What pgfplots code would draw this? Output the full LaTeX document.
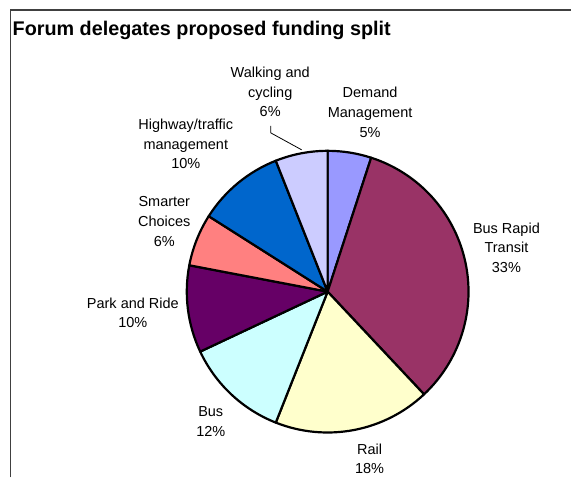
\documentclass[border=0pt]{standalone}
\usepackage{fontspec}
\setmainfont{Liberation Sans}
\usepackage{pgfplots}
\usepackage{pgfplotstable}
\pgfplotsset{compat=1.18}

\definecolor{frame}{HTML}{404040}
\definecolor{cDM}{HTML}{9999FF}
\definecolor{cBRT}{HTML}{993366}
\definecolor{cRail}{HTML}{FFFFCC}
\definecolor{cBus}{HTML}{CCFFFF}
\definecolor{cPR}{HTML}{660066}
\definecolor{cSC}{HTML}{FF8080}
\definecolor{cHW}{HTML}{0066CC}
\definecolor{cWC}{HTML}{CCCCFF}

% percentages, start and end angles (clockwise from 12 o'clock), pie centre
\pgfplotstableread{
pct a0 a1 cx cy
5 90 72 328 186
33 72 -46.8 328 186
18 -46.8 -111.6 328 186
12 -111.6 -154.8 328 186
10 -154.8 -190.8 328 186
6 -190.8 -212.4 328 186
10 -212.4 -248.4 328 186
6 -248.4 -270 328 186
}\piedata

\pgfdeclareplotmark{wedge}{%
  \pgfpathmoveto{\pgfpointorigin}%
  \pgfpathlineto{\pgfpointpolar{\wedgestart}{141bp}}%
  \pgfpatharc{\wedgestart}{\wedgeend}{141bp}%
  \pgfpathclose
  \pgfusepathqfillstroke}

\newcommand\pieslice[2]{%
  \addplot[only marks, mark=wedge,
    mark options={fill=#2, draw=black, line width=2.2bp, line join=round},
    restrict expr to domain={\coordindex}{#1:#1},
    visualization depends on={\thisrow{a0}\as\wedgestart},
    visualization depends on={\thisrow{a1}\as\wedgeend},
  ] table[x=cx, y=cy] {\piedata};}

\newcommand\lblfont{\fontsize{14.5bp}{19.6bp}\selectfont}

\begin{document}
\begin{tikzpicture}
\begin{axis}[
  x=1bp, y=1bp,
  xmin=0, xmax=572, ymin=0, ymax=478,
  axis lines=none,
  scale only axis,
  clip=false,
]
\pieslice{0}{cDM}
\pieslice{1}{cBRT}
\pieslice{2}{cRail}
\pieslice{3}{cBus}
\pieslice{4}{cPR}
\pieslice{5}{cSC}
\pieslice{6}{cHW}
\pieslice{7}{cWC}

% frame
\draw[line width=1.3bp, frame] (axis cs:10.5,0) -- (axis cs:10.5,468) -- (axis cs:572,468);
\path (axis cs:0,0) (axis cs:572,478);

% title
\node[anchor=base west, inner sep=0pt, font=\fontsize{19.8bp}{23bp}\selectfont\bfseries]
  at (axis cs:12.5,442.5) {Forum delegates proposed funding split};

% leader line
\draw[line width=0.8bp] (axis cs:271,352) -- (axis cs:271,345) -- (axis cs:302,328);

% labels
\node[align=center, font=\lblfont] at (axis cs:270.5,386) {Walking and\\cycling\\6\%};
\node[align=center, font=\lblfont] at (axis cs:370.5,365.5) {Demand\\Management\\5\%};
\node[align=center, font=\lblfont] at (axis cs:186,334) {Highway/traffic\\management\\10\%};
\node[align=center, font=\lblfont] at (axis cs:164.5,256.3) {Smarter\\Choices\\6\%};
\node[align=center, font=\lblfont] at (axis cs:133,165) {Park and Ride\\10\%};
\node[align=center, font=\lblfont] at (axis cs:211,56) {Bus\\12\%};
\node[align=center, font=\lblfont] at (axis cs:370,18.5) {Rail\\18\%};
\node[align=center, font=\lblfont] at (axis cs:507,230) {Bus Rapid\\Transit\\33\%};
\end{axis}
\end{tikzpicture}
\end{document}
